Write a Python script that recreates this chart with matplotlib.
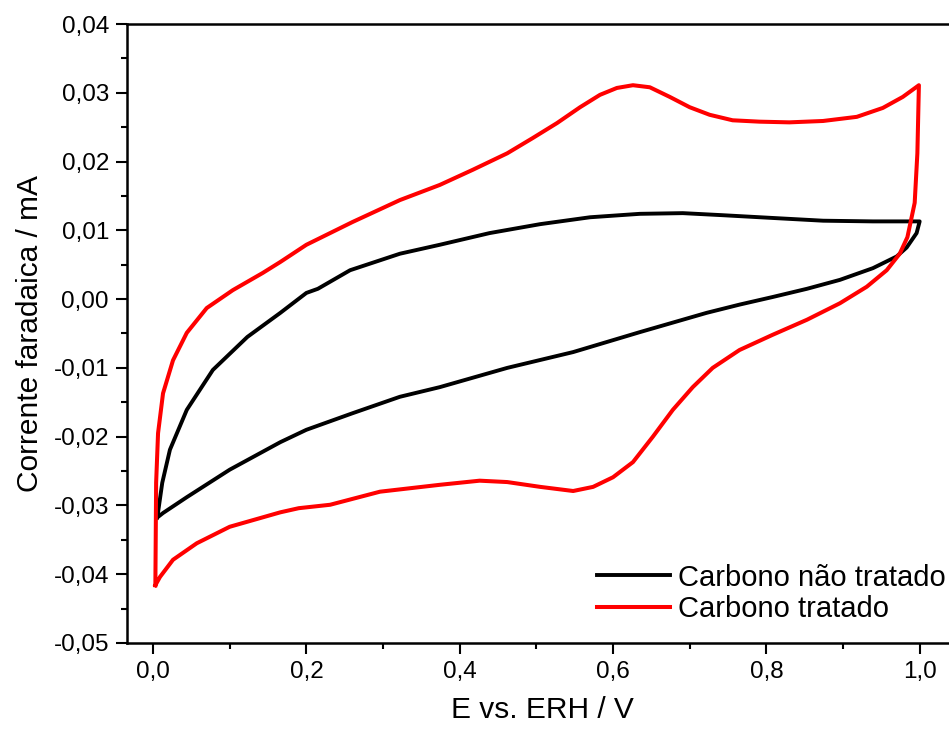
import matplotlib
matplotlib.use('Agg')
import matplotlib.pyplot as plt
from matplotlib.ticker import MultipleLocator, FuncFormatter

plt.rcParams['font.family'] = ['Liberation Sans', 'DejaVu Sans']

# Carbono nao tratado (black) - anodic sweep 0 -> 1 V
bk_fwd_x = [0.005, 0.0065, 0.012, 0.022, 0.044, 0.078, 0.123, 0.166, 0.200, 0.215,
            0.257, 0.322, 0.374, 0.439, 0.505, 0.570, 0.635, 0.691, 0.743, 0.808,
            0.874, 0.939, 1.000]
bk_fwd_y = [-0.0318, -0.0310, -0.0267, -0.0219, -0.0161, -0.0103, -0.0055, -0.0020, 0.0009, 0.0015,
            0.0042, 0.0066, 0.0079, 0.0096, 0.0109, 0.0119, 0.0124, 0.0125, 0.0122, 0.0118,
            0.0114, 0.0113, 0.0113]
# cathodic sweep 1 -> 0 V
bk_rev_x = [1.000, 0.996, 0.983, 0.970, 0.939, 0.896, 0.853, 0.808, 0.765, 0.722,
            0.635, 0.548, 0.462, 0.374, 0.322, 0.260, 0.200, 0.166, 0.100, 0.044,
            0.013, 0.005]
bk_rev_y = [0.0113, 0.0096, 0.0075, 0.0062, 0.0045, 0.0028, 0.0015, 0.0003, -0.0008, -0.0020,
            -0.0048, -0.0077, -0.0100, -0.0128, -0.0142, -0.0166, -0.0190, -0.0208, -0.0248, -0.0288,
            -0.0311, -0.0318]

# Carbono tratado (red) - anodic sweep
rd_fwd_x = [0.003, 0.004, 0.0065, 0.013, 0.026, 0.044, 0.070, 0.104, 0.143, 0.166,
            0.200, 0.260, 0.322, 0.374, 0.417, 0.462, 0.495, 0.527, 0.557, 0.583,
            0.605, 0.626, 0.648, 0.674, 0.700, 0.726, 0.756, 0.791, 0.830, 0.874,
            0.918, 0.952, 0.978, 0.999]
rd_fwd_y = [-0.0416, -0.0267, -0.0195, -0.0137, -0.0089, -0.0049, -0.0013, 0.0013, 0.0038, 0.0054,
            0.0079, 0.0112, 0.0144, 0.0166, 0.0188, 0.0212, 0.0234, 0.0256, 0.0279, 0.0297,
            0.0307, 0.0311, 0.0308, 0.0294, 0.0279, 0.0268, 0.0260, 0.0258, 0.0257, 0.0259,
            0.0265, 0.0278, 0.0294, 0.0311]
# cathodic sweep
rd_rev_x = [0.999, 0.997, 0.9935, 0.984, 0.974, 0.957, 0.931, 0.896, 0.853, 0.808,
            0.765, 0.730, 0.704, 0.678, 0.652, 0.626, 0.600, 0.574, 0.548, 0.505,
            0.462, 0.426, 0.374, 0.296, 0.231, 0.190, 0.166, 0.100, 0.057, 0.026,
            0.009, 0.003]
rd_rev_y = [0.0311, 0.0212, 0.0140, 0.0090, 0.0066, 0.0042, 0.0018, -0.0006, -0.0030, -0.0052,
            -0.0074, -0.0100, -0.0128, -0.0161, -0.0200, -0.0237, -0.0259, -0.0273, -0.0279, -0.0273,
            -0.0266, -0.0264, -0.0270, -0.0280, -0.0299, -0.0304, -0.0310, -0.0331, -0.0355, -0.0379,
            -0.0404, -0.0416]

labels = ['Carbono não tratado', 'Carbono tratado']


def fmt_comma(v, digits):
    if abs(v) < 1e-9:
        v = 0.0
    return f"{v:.{digits}f}".replace('.', ',')


fig = plt.figure(figsize=(9.49, 7.29), dpi=100)
ax = fig.add_axes([127 / 949, 86 / 729, (958 - 127) / 949, (643 - 24) / 729])

ax.plot(bk_fwd_x + bk_rev_x, bk_fwd_y + bk_rev_y, color='black', lw=2.8,
        solid_joinstyle='round', label=labels[0])
ax.plot(rd_fwd_x + rd_rev_x, rd_fwd_y + rd_rev_y, color='#ff0000', lw=2.9,
        solid_joinstyle='round', label=labels[1])

ax.set_xlim(-0.034, 1.05)
ax.set_ylim(-0.05, 0.04)

ax.xaxis.set_major_locator(MultipleLocator(0.2))
ax.xaxis.set_minor_locator(MultipleLocator(0.1))
ax.yaxis.set_major_locator(MultipleLocator(0.01))
ax.yaxis.set_minor_locator(MultipleLocator(0.005))
ax.xaxis.set_major_formatter(FuncFormatter(lambda v, p: fmt_comma(v, 1)))
ax.yaxis.set_major_formatter(FuncFormatter(lambda v, p: fmt_comma(v, 2)))

ax.tick_params(which='major', direction='out', length=8, width=1.5, labelsize=17.5, pad=5)
ax.tick_params(which='minor', direction='out', length=4, width=1.5)
for s in ax.spines.values():
    s.set_linewidth(1.8)

ax.set_xlabel('E vs. ERH / V', fontsize=21.5, labelpad=9)
ax.set_ylabel('Corrente faradaica / mA', fontsize=21.5, labelpad=7)

ax.legend(loc='lower right', bbox_to_anchor=(946 / 949, (729 - 623) / 729),
          bbox_transform=fig.transFigure, frameon=False, fontsize=21,
          handlelength=2.5, handletextpad=0.3, labelspacing=0.12, borderpad=0,
          borderaxespad=0)

fig.savefig('out.png', dpi=100)
